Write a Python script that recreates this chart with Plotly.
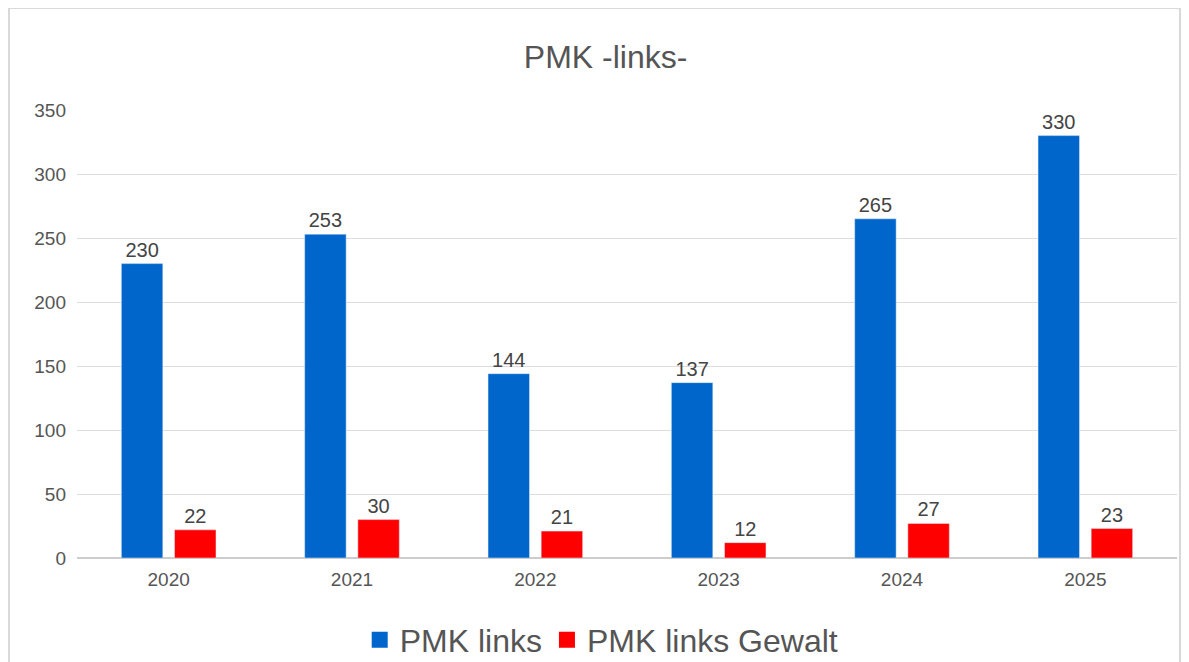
import plotly.graph_objects as go

# --- DATA ---
years = ["2020", "2021", "2022", "2023", "2024", "2025"]
pmk_links = [230, 253, 144, 137, 265, 330]
pmk_links_gewalt = [22, 30, 21, 12, 27, 23]

series = [
    ("PMK links", pmk_links, "#0066CC"),
    ("PMK links Gewalt", pmk_links_gewalt, "#FF0000"),
]

# page body has an 8px margin, so the figure is a bit smaller than the window
W, H = 1181, 654
L, T, PH = 69, 102, 448
B = H - T - PH

fig = go.Figure()

for name, vals, col in series:
    fig.add_trace(go.Bar(
        x=years,
        y=vals,
        name=name,
        marker_color=col,
        text=vals,
        textposition="outside",
        textfont=dict(size=20, color="#444444"),
        cliponaxis=False,
        showlegend=False
    ))

# legend entries with bigger square symbols
for name, vals, col in series:
    fig.add_trace(go.Scatter(
        x=[None], y=[None],
        mode="markers",
        name=name,
        marker=dict(symbol="square", size=21, color=col),
        showlegend=True
    ))

fig.update_layout(
    width=W,
    height=H,
    margin=dict(l=L, r=12, t=T, b=B),
    paper_bgcolor="white",
    plot_bgcolor="white",
    font=dict(family="Liberation Sans, Arial, sans-serif", color="#555555"),
    title=dict(
        text="PMK -links-",
        x=0.506,
        xanchor="center",
        y=1 - 49 / H,
        yanchor="middle",
        font=dict(size=32, color="#555555")
    ),
    barmode="group",
    bargap=0.42,
    bargroupgap=0.22,
    legend=dict(
        orientation="h",
        xref="paper",
        x=0.477,
        xanchor="center",
        yref="container",
        y=1 - 632 / H,
        yanchor="middle",
        font=dict(size=32, color="#555555"),
        itemwidth=30,
        tracegroupgap=0
    ),
    xaxis=dict(
        showgrid=False,
        tickfont=dict(size=19, color="#555555"),
        showline=True,
        linecolor="#cccccc",
        ticks="",
        ticklabelstandoff=4
    ),
    yaxis=dict(
        range=[0, 350],
        tick0=0,
        dtick=50,
        showgrid=True,
        gridcolor="#dddddd",
        zeroline=True,
        zerolinecolor="#cccccc",
        tickfont=dict(size=19, color="#555555"),
        ticklabelstandoff=10
    ),
    # outer frame like in the original screenshot
    shapes=[dict(
        type="rect",
        xref="paper", yref="paper",
        x0=(1 - L) / 1100, x1=(1172 - L) / 1100,
        y0=-(H + 20 - T - PH) / PH, y1=(T + PH - 0) / PH,
        line=dict(color="#d9d9d9", width=2),
        fillcolor="rgba(0,0,0,0)",
        layer="below"
    )]
)

fig.write_html("out.html")
